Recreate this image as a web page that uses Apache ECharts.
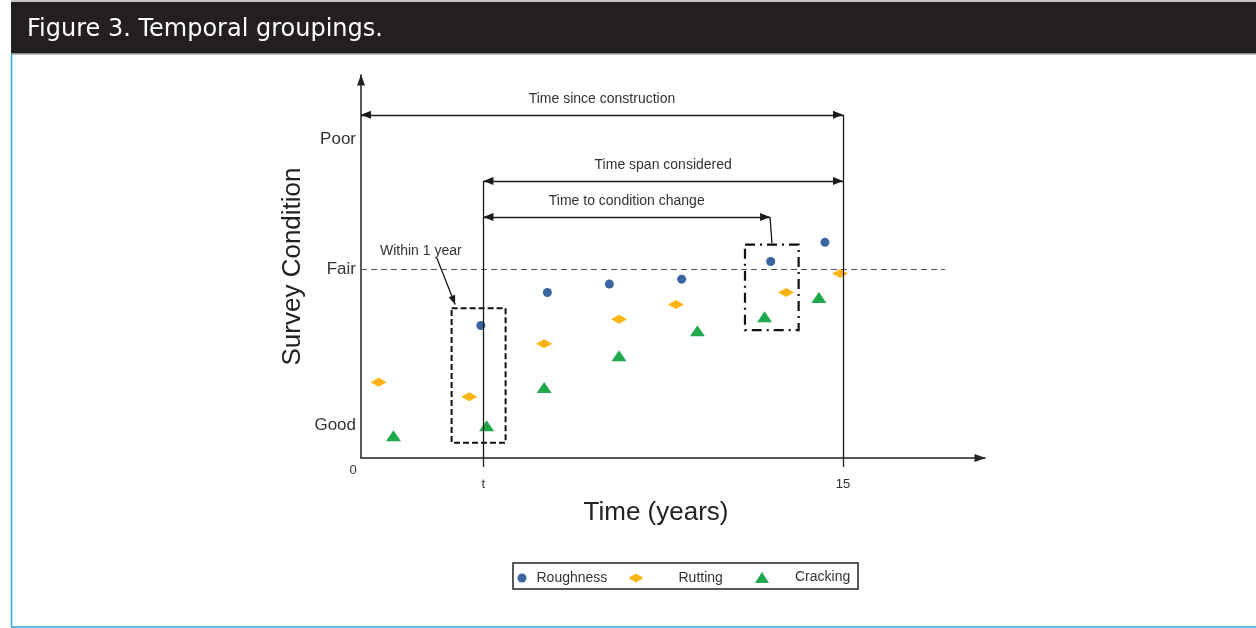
<!DOCTYPE html>
<html>
<head>
<meta charset="utf-8">
<title>Figure 3. Temporal groupings.</title>
<script src="https://cdn.jsdelivr.net/npm/echarts@6/dist/echarts.min.js"></script>
<style>
  html, body { margin: 0; padding: 0; background: #fff; }
  #chart { width: 1256px; height: 628px; }
</style>
</head>
<body>
<div id="chart"></div>
<script>
// x = time in years, y = condition score (0 at the time axis)
var roughnessX = [3.73, 5.80, 7.73, 9.98, 12.75, 14.44]
var roughnessY = [3.46, 4.32, 4.54, 4.67, 5.13, 5.63]
var ruttingX = [0.55, 3.37, 5.70, 8.03, 9.80, 13.23, 14.91]
var ruttingY = [1.98, 1.60, 2.98, 3.62, 4.01, 4.32, 4.82]
var crackingX = [1.01, 3.91, 5.70, 8.03, 10.47, 12.56, 14.25]
var crackingY = [0.58, 0.84, 1.84, 2.67, 3.32, 3.69, 4.19]

var xTickValues = [0, 3.81, 15]
var xTickLabels = ['0', 't', '15']
var yTickValues = [0.86, 4.93, 8.33]
var yTickLabels = ['Good', 'Fair', 'Poor']

// annotation spans: [from, to, level]
var sinceConstruction = [0, 15, 8.96]
var spanConsidered = [3.81, 15, 7.23]
var toChange = [3.81, 12.73, 6.29]
var fairLevel = [0, 18.18, 4.93]
// boxes: [x1, x2, yBottom, yTop]
var withinYearBox = [2.82, 4.50, 0.40, 3.91]
var changeBox = [11.95, 13.62, 3.34, 5.57]

var FONT = 'Liberation Sans, Arial, sans-serif'

function zip(xs, ys) {
  var out = []
  for (var i = 0; i < xs.length; i++) {
    out.push([xs[i], ys[i]])
  }
  return out
}

function nearestLabel(values, labels, v) {
  var best = 0
  for (var i = 1; i < values.length; i++) {
    if (Math.abs(values[i] - v) < Math.abs(values[best] - v)) best = i
  }
  return labels[best]
}

function spanLabel(text) {
  return {
    show: true,
    formatter: text,
    position: 'insideMiddleTop',
    distance: 9,
    color: '#333',
    fontSize: 14,
    fontFamily: FONT
  }
}

var chart = echarts.init(document.getElementById('chart'))

var option = {
  backgroundColor: '#fff',
  animation: false,
  title: {
    text: 'Figure 3. Temporal groupings.',
    left: 22,
    top: 13,
    textStyle: {
      color: '#fff',
      fontSize: 24,
      fontWeight: 'normal',
      fontFamily: 'DejaVu Sans, sans-serif'
    }
  },
  graphic: [
    { type: 'rect', z: -1, shape: { x: 11, y: 0, width: 1245, height: 2 }, style: { fill: '#c4c4c4' } },
    { type: 'rect', z: -1, shape: { x: 11, y: 2, width: 1245, height: 52 }, style: { fill: '#231f20' } },
    { type: 'rect', z: -1, shape: { x: 11, y: 53, width: 1245, height: 1.5 }, style: { fill: '#8c8c8c' } },
    { type: 'line', shape: { x1: 11.5, y1: 54, x2: 11.5, y2: 627 }, style: { stroke: '#2ea6de', lineWidth: 1.5 } },
    { type: 'line', shape: { x1: 11, y1: 627, x2: 1256, y2: 627 }, style: { stroke: '#2ea6de', lineWidth: 1.5 } },
    { type: 'rect', shape: { x: 513, y: 563, width: 345, height: 26 }, style: { fill: 'none', stroke: '#222', lineWidth: 1.5 } }
  ],
  grid: {
    left: 361,
    top: 75,
    right: 271,
    bottom: 170,
    containLabel: false
  },
  legend: [
    {
      data: [{ name: 'Roughness', icon: 'circle' }],
      left: 517.5, top: 571, padding: 0,
      itemWidth: 9, itemHeight: 9, selectedMode: false,
      textStyle: { color: '#333', fontSize: 14, fontFamily: FONT, padding: [0, 0, 0, 5] }
    },
    {
      data: [{ name: 'Rutting', icon: 'diamond' }],
      left: 628.5, top: 571, padding: 0,
      itemWidth: 15, itemHeight: 9, selectedMode: false,
      textStyle: { color: '#333', fontSize: 14, fontFamily: FONT, padding: [0, 0, 0, 30] }
    },
    {
      data: [{ name: 'Cracking', icon: 'triangle' }],
      left: 755, top: 570.5, padding: 0,
      itemWidth: 14, itemHeight: 11, selectedMode: false,
      textStyle: { color: '#333', fontSize: 14, fontFamily: FONT, padding: [0, 0, 0, 21] }
    }
  ],
  xAxis: {
    type: 'value',
    min: 0,
    max: 19.42,
    name: '{t|Time (years)}',
    nameLocation: 'middle',
    nameGap: 42,
    nameTextStyle: {
      color: '#222',
      fontFamily: FONT,
      rich: { t: { fontSize: 26, fontFamily: FONT, color: '#222', padding: [0, 34, 0, 0] } }
    },
    splitLine: { show: false },
    axisLine: {
      symbol: ['none', 'triangle'],
      symbolSize: [8, 11],
      symbolOffset: [0, -5],
      lineStyle: { color: '#222', width: 1.5 }
    },
    axisTick: {
      show: true,
      customValues: xTickValues.slice(1),
      length: 9,
      lineStyle: { color: '#222', width: 1.3 }
    },
    axisLabel: {
      customValues: xTickValues,
      margin: 6,
      formatter: function (v) {
        var s = nearestLabel(xTickValues, xTickLabels, v)
        return v === 0 ? '{o|' + s + '}' : '{n|' + s + '}'
      },
      rich: {
        o: { fontSize: 13, color: '#333', fontFamily: FONT, padding: [0, 16, 0, 0] },
        n: { fontSize: 13, color: '#333', fontFamily: FONT, padding: [14, 0, 0, 0] }
      }
    }
  },
  yAxis: {
    type: 'value',
    min: 0,
    max: 10,
    name: 'Survey Condition',
    nameLocation: 'middle',
    nameGap: 55,
    nameTextStyle: { color: '#222', fontSize: 26, fontFamily: FONT },
    splitLine: { show: false },
    axisTick: { show: false },
    axisLine: {
      symbol: ['none', 'triangle'],
      symbolSize: [8, 11],
      symbolOffset: [0, -5],
      lineStyle: { color: '#222', width: 1.5 }
    },
    axisLabel: {
      customValues: yTickValues,
      margin: 5,
      color: '#333',
      fontSize: 17,
      fontFamily: FONT,
      formatter: function (v) {
        return nearestLabel(yTickValues, yTickLabels, v)
      }
    }
  },
  series: [
    {
      name: 'annotations',
      type: 'scatter',
      data: [],
      z: 1,
      silent: true,
      markLine: {
        silent: true,
        animation: false,
        symbol: ['none', 'none'],
        symbolSize: [8, 10],
        lineStyle: { color: '#1a1a1a', width: 1.3, type: 'solid' },
        label: { show: false },
        emphasis: { disabled: true },
        data: [
          [
            { name: 'fair', coord: [fairLevel[0], fairLevel[2]], lineStyle: { type: [6, 4], color: '#555', width: 1.2 } },
            { coord: [fairLevel[1], fairLevel[2]] }
          ],
          [
            { coord: [sinceConstruction[0], sinceConstruction[2]], symbol: 'triangle', symbolOffset: [0, 5], label: spanLabel('Time since construction') },
            { coord: [sinceConstruction[1], sinceConstruction[2]], symbol: 'triangle', symbolOffset: [0, 5] }
          ],
          [
            { coord: [spanConsidered[0], spanConsidered[2]], symbol: 'triangle', symbolOffset: [0, 5], label: spanLabel('Time span considered') },
            { coord: [spanConsidered[1], spanConsidered[2]], symbol: 'triangle', symbolOffset: [0, 5] }
          ],
          [
            { coord: [toChange[0], toChange[2]], symbol: 'triangle', symbolOffset: [0, 5], label: spanLabel('Time to condition change') },
            { coord: [toChange[1], toChange[2]], symbol: 'triangle', symbolOffset: [0, 5] }
          ],
          [{ coord: [sinceConstruction[1], sinceConstruction[2]] }, { coord: [sinceConstruction[1], 0] }],
          [{ coord: [spanConsidered[0], spanConsidered[2]] }, { coord: [spanConsidered[0], 0] }],
          [{ coord: [toChange[1], toChange[2]] }, { coord: [12.79, changeBox[3] + 0.04] }],
          [
            { coord: [2.36, 5.22] },
            { coord: [2.93, withinYearBox[3] + 0.1], symbol: 'triangle', symbolSize: [7, 9], symbolOffset: [0, 4.5] }
          ]
        ]
      },
      markArea: {
        silent: true,
        itemStyle: { color: 'rgba(0,0,0,0)', borderColor: '#111', borderWidth: 2, borderType: [6, 3] },
        emphasis: { disabled: true },
        data: [
          [{ coord: [withinYearBox[0], withinYearBox[3]] }, { coord: [withinYearBox[1], withinYearBox[2]] }],
          [
            { coord: [changeBox[0], changeBox[3]], itemStyle: { borderType: [10, 5, 2, 5], borderWidth: 2.2 } },
            { coord: [changeBox[1], changeBox[2]] }
          ]
        ]
      },
      markPoint: {
        silent: true,
        symbol: 'circle',
        symbolSize: 1,
        itemStyle: { color: 'rgba(0,0,0,0)' },
        label: { show: true, position: 'inside', color: '#333', fontSize: 14, fontFamily: FONT },
        data: [{ name: 'Within 1 year', coord: [1.86, 5.39], label: { formatter: 'Within 1 year' } }]
      }
    },
    {
      name: 'Roughness',
      type: 'scatter',
      z: 3,
      symbol: 'circle',
      symbolSize: 9,
      itemStyle: { color: '#3a65a0', opacity: 1 },
      data: zip(roughnessX, roughnessY)
    },
    {
      name: 'Rutting',
      type: 'scatter',
      z: 3,
      symbol: 'diamond',
      symbolSize: [16, 9],
      itemStyle: { color: '#fdb515', opacity: 1 },
      data: zip(ruttingX, ruttingY)
    },
    {
      name: 'Cracking',
      type: 'scatter',
      z: 3,
      symbol: 'triangle',
      symbolSize: [15, 11],
      itemStyle: { color: '#1fa84c', opacity: 1 },
      data: zip(crackingX, crackingY)
    }
  ]
}

chart.setOption(option)
</script>
</body>
</html>
